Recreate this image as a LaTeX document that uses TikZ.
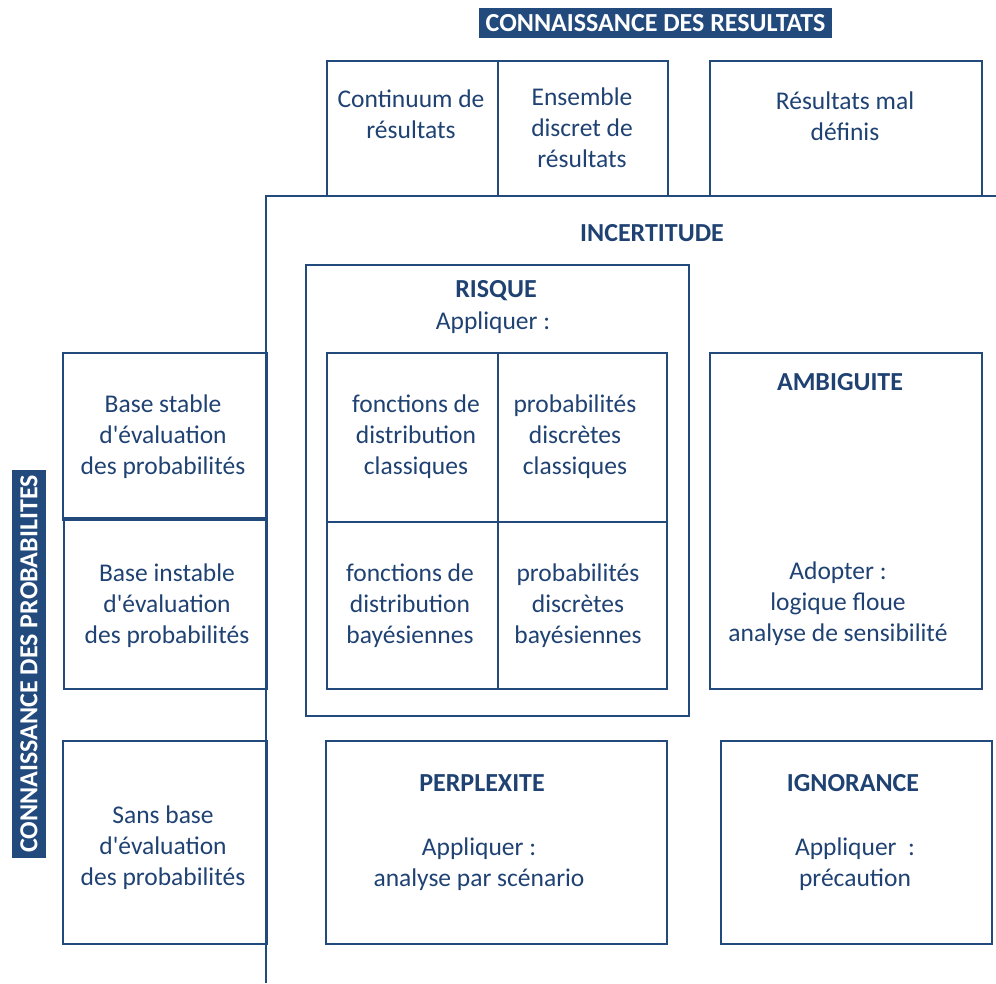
\documentclass[tikz,border=0pt]{standalone}
\usepackage{fontspec}
\setmainfont{Carlito}
\definecolor{navy}{RGB}{35,74,124}
\definecolor{txtc}{RGB}{31,66,115}
\newcommand{\apos}{\textquotesingle}
\tikzset{
  box/.style={draw=navy, line width=2pt, anchor=north west, inner sep=0pt},
  txt/.style={text=txtc, align=center, font=\fontsize{25.5}{31}\selectfont, inner sep=0pt},
  ttl/.style={txt, font=\fontsize{26}{31}\selectfont\bfseries},
  banner/.style={fill=navy, text=white, font=\fontsize{26}{31}\selectfont\bfseries, inner sep=0pt, minimum height=30pt}
}
\begin{document}
\begin{tikzpicture}[x=1pt,y=-1pt]
\useasboundingbox (0,0) rectangle (996,983);
% banners
\node[banner, minimum width=353pt] (topban) at (655.5,23) {CONNAISSANCE DES RESULTATS};
\node[banner, minimum width=388pt, minimum height=34pt, rotate=90] (leftban) at (29,664) {CONNAISSANCE DES PROBABILITES};
% top boxes
\node[box, minimum width=171pt, minimum height=135pt] (cont) at (326,60) {};
\node[box, minimum width=170pt, minimum height=135pt] (ens) at (497,60) {};
\node[box, minimum width=272pt, minimum height=135pt] (mal) at (709,60) {};
\node[txt] (contT) at (411,114) {Continuum de\\résultats};
\node[txt] (ensT) at (582,128) {Ensemble\\discret de\\résultats};
\node[txt] (malT) at (845,116) {Résultats mal\\définis};
% axes
\coordinate (corner) at (266,196);
\coordinate (xend) at (996,196);
\coordinate (yend) at (266,983);
\draw[navy, line width=2.2pt] (xend) -- (corner) -- (yend);
\node[ttl] (incert) at (652,233) {INCERTITUDE};
% risque
\node[box, minimum width=383pt, minimum height=451pt] (risque) at (305,264) {};
\node[ttl] (risqueT) at (496,291) {RISQUE};
\node[txt] (risqueA) at (493,323) {Appliquer :};
\node[box, minimum width=171pt, minimum height=169pt] (c11) at (326,352) {};
\node[box, minimum width=169pt, minimum height=169pt] (c12) at (497,352) {};
\node[box, minimum width=171pt, minimum height=167pt] (c21) at (326,521) {};
\node[box, minimum width=169pt, minimum height=167pt] (c22) at (497,521) {};
\node[txt] (c11T) at (416,437) {fonctions de\\distribution\\classiques};
\node[txt] (c12T) at (575,437) {probabilités\\discrètes\\classiques};
\node[txt] (c21T) at (410,606) {fonctions de\\distribution\\bayésiennes};
\node[txt] (c22T) at (578,606) {probabilités\\discrètes\\bayésiennes};
% ambiguite
\node[box, minimum width=272pt, minimum height=336pt] (amb) at (709,352) {};
\node[ttl] (ambT) at (840,382) {AMBIGUITE};
\node[txt] (ambA) at (838,604) {Adopter :\\logique floue\\analyse de sensibilité};
% left boxes
\node[box, minimum width=204pt, minimum height=167pt] (stable) at (62,352) {};
\node[box, minimum width=203pt, minimum height=171pt] (instable) at (63,517) {};
\node[box, minimum width=204pt, minimum height=203pt] (sans) at (62,740) {};
\node[txt] (stableT) at (163,437) {Base stable\\d\apos évaluation\\des probabilités};
\node[txt] (instableT) at (167,606) {Base instable\\d\apos évaluation\\des probabilités};
\node[txt] (sansT) at (163,848) {Sans base\\d\apos évaluation\\des probabilités};
% bottom boxes
\node[box, minimum width=341pt, minimum height=203pt] (perp) at (325,740) {};
\node[ttl] (perpT) at (482,783) {PERPLEXITE};
\node[txt] (perpA) at (479,864) {Appliquer :\\analyse par scénario};
\node[box, minimum width=271pt, minimum height=203pt] (ign) at (720,740) {};
\node[ttl] (ignT) at (853,783) {IGNORANCE};
\node[txt] (ignA) at (855,864) {Appliquer~~:\\précaution};
\end{tikzpicture}
\end{document}
